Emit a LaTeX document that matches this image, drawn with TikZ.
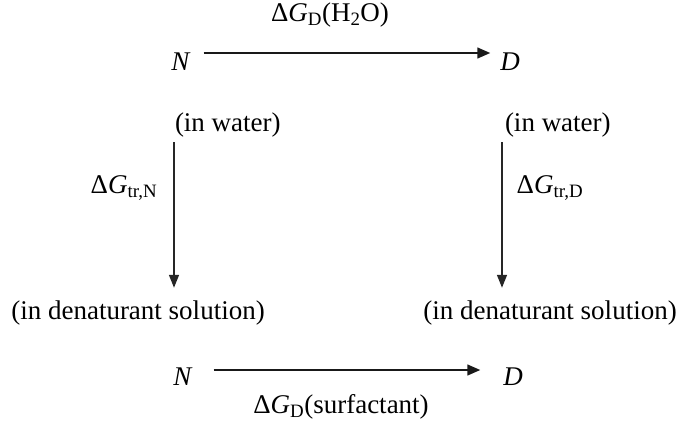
\documentclass[tikz,border=0pt]{standalone}
\usepackage{fontspec}
\setmainfont{Liberation Serif}
\usetikzlibrary{arrows.meta}
\tikzset{
  lbl/.style={inner sep=0pt, outer sep=0pt, font=\fontsize{27}{32}\selectfont, text=black},
  arr/.style={line width=1.5pt, draw=black!90, -{Triangle[length=13pt,width=11pt]}},
  vline/.style={line width=1.5pt, draw=black!85, -{Triangle[length=13pt,width=10pt]}}
}
\newcommand{\dG}{Δ\textit{G}}
\begin{document}
\begin{tikzpicture}[x=1pt,y=-1pt]
\useasboundingbox (0,0) rectangle (678,421);
% top row
\node[lbl] (topl) at (330,15) {\dG\textsubscript{D}(H\textsubscript{2}O)};
\node[lbl] (N1) at (181,62) {\textit{N}};
\node[lbl] (D1) at (510,62) {\textit{D}};
\draw[arr, shorten <=13pt, shorten >=10pt] ([yshift=9pt]N1.east) -- ([yshift=9pt]D1.west);
% in water
\node[lbl, anchor=west] (w1) at (175,125) {(in water)};
\node[lbl, anchor=west] (w2) at (505,125) {(in water)};
% solutions
\node[lbl] (s1) at (138,313) {(in denaturant solution)};
\node[lbl] (s2) at (550,313) {(in denaturant solution)};
% vertical arrows
\draw[vline, shorten <=5pt, shorten >=13pt] ([xshift=-1pt]w1.south west) -- ([xshift=-1pt]w1.south west |- s1.north);
\draw[vline, shorten <=5pt, shorten >=13pt] ([xshift=-3pt]w2.south west) -- ([xshift=-3pt]w2.south west |- s2.north);
\node[lbl] (trN) at (124,188) {\dG\textsubscript{tr,N}};
\node[lbl] (trD) at (550,188) {\dG\textsubscript{tr,D}};
% bottom row
\node[lbl] (N2) at (183,377) {\textit{N}};
\node[lbl] (D2) at (513,377) {\textit{D}};
\draw[arr, shorten <=21pt, shorten >=23pt] ([yshift=7pt]N2.east) -- ([yshift=7pt]D2.west);
\node[lbl] (botl) at (341,407) {\dG\textsubscript{D}(surfactant)};
\end{tikzpicture}
\end{document}
